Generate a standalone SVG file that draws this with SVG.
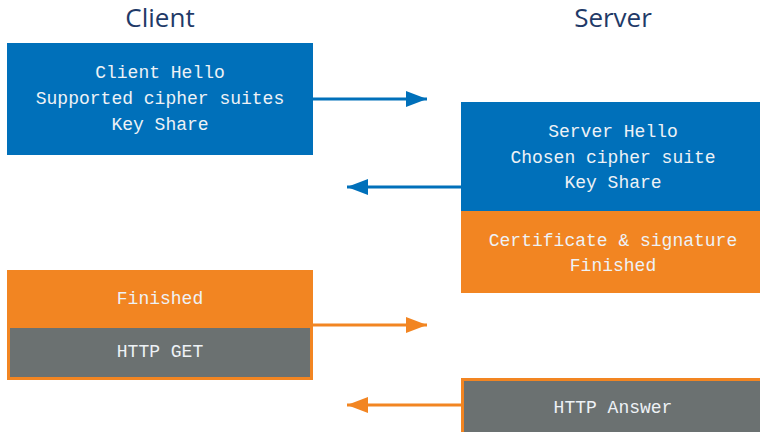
<svg xmlns="http://www.w3.org/2000/svg" width="760" height="432" viewBox="0 0 760 432">
<defs>
<marker id="ab" markerWidth="22" markerHeight="16" refX="21" refY="8" orient="auto" markerUnits="userSpaceOnUse"><path d="M0,0 L21,8 L0,16 Z" fill="#0070ba"/></marker>
<marker id="ao" markerWidth="22" markerHeight="16" refX="21" refY="8" orient="auto" markerUnits="userSpaceOnUse"><path d="M0,0 L21,8 L0,16 Z" fill="#f28522"/></marker>
</defs>
<style>
.title{font-family:"Open Sans","Liberation Sans",sans-serif;font-size:26px;fill:#1f3a68;text-anchor:middle}
.t{font-family:"Liberation Mono","DejaVu Sans Mono",monospace;font-size:18px;fill:#eef2f6;text-anchor:middle}
.blue{fill:#0070ba}
.orange{fill:#f28522}
.gray{fill:#6b7171;stroke:#f28522;stroke-width:3}
.cb{stroke:#0070ba;stroke-width:3;fill:none}
.co{stroke:#f28522;stroke-width:3;fill:none}
</style>
<text class="title" x="160" y="27">Client</text>
<text class="title" x="613" y="27">Server</text>
<g id="connectors">
<line class="cb" x1="313" y1="99" x2="427" y2="99" marker-end="url(#ab)"/>
<line class="cb" x1="461" y1="187" x2="347" y2="187" marker-end="url(#ab)"/>
<line class="co" x1="313" y1="325" x2="427" y2="325" marker-end="url(#ao)"/>
<line class="co" x1="461" y1="405" x2="347" y2="405" marker-end="url(#ao)"/>
</g>
<g id="client-hello">
<rect class="blue" x="7" y="43" width="306" height="112"/>
<text class="t" x="160" y="78">Client Hello</text>
<text class="t" x="160" y="104">Supported cipher suites</text>
<text class="t" x="160" y="130">Key Share</text>
</g>
<g id="server-hello">
<rect class="blue" x="461" y="102" width="299" height="109"/>
<text class="t" x="613" y="137">Server Hello</text>
<text class="t" x="613" y="163">Chosen cipher suite</text>
<text class="t" x="613" y="188">Key Share</text>
</g>
<g id="server-cert">
<rect class="orange" x="461" y="211" width="299" height="82"/>
<text class="t" x="613" y="246">Certificate &amp; signature</text>
<text class="t" x="613" y="271">Finished</text>
</g>
<g id="client-finished">
<rect class="orange" x="7" y="270" width="306" height="57"/>
<text class="t" x="160" y="304">Finished</text>
</g>
<g id="http-get">
<rect class="gray" x="8.5" y="326.5" width="303" height="52"/>
<text class="t" x="160" y="357">HTTP GET</text>
</g>
<g id="http-answer">
<rect class="gray" x="462.5" y="379.5" width="300" height="55"/>
<text class="t" x="613" y="413">HTTP Answer</text>
</g>
</svg>
